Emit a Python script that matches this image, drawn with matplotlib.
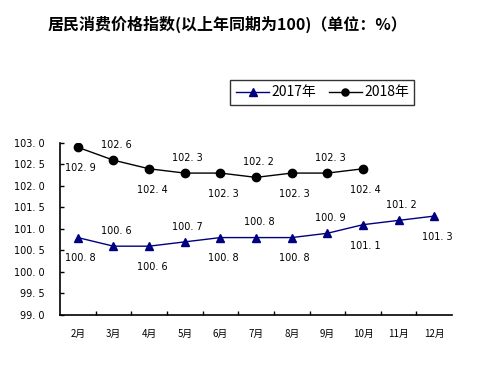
import matplotlib
matplotlib.use("Agg")
import matplotlib.pyplot as plt

months = ["2月", "3月", "4月", "5月", "6月", "7月", "8月", "9月", "10月", "11月", "12月"]
cpi_2017 = [100.8, 100.6, 100.6, 100.7, 100.8, 100.8, 100.8, 100.9, 101.1, 101.2, 101.3]
cpi_2018 = [102.9, 102.6, 102.4, 102.3, 102.3, 102.2, 102.3, 102.3, 102.4]
pos_2017 = ["below", "above", "below", "above", "below", "above", "below", "above", "below", "above", "below"]
pos_2018 = ["below", "above", "below", "above", "below", "above", "below", "above", "below"]
yticks = [99.0, 99.5, 100.0, 100.5, 101.0, 101.5, 102.0, 102.5, 103.0]

CJK = ["Noto Sans CJK SC", "DejaVu Sans"]
NUM = ["DejaVu Sans", "Noto Sans CJK SC"]

fig = plt.figure(figsize=(4.82, 3.71), dpi=100)
ax = fig.add_axes([0.1245, 0.151, 0.8135, 0.4636])

x17 = list(range(len(cpi_2017)))
x18 = list(range(len(cpi_2018)))
ax.plot(x17, cpi_2017, color="#000080", lw=1.0, marker="^", ms=6, mfc="#000080", mec="#000080", label="2017年")
ax.plot(x18, cpi_2018, color="#000000", lw=1.0, marker="o", ms=6, mfc="#000000", mec="#000000", label="2018年")

def fmt(v):
    return f"{v:.1f}".replace(".", ". ")

for xs, ys, ps in ((x17, cpi_2017, pos_2017), (x18, cpi_2018, pos_2018)):
    for xi, yi, p in zip(xs, ys, ps):
        dy = -15 if p == "below" else 11
        ax.annotate(fmt(yi), (xi, yi), xytext=(2, dy), textcoords="offset points",
                    ha="center", va="center", fontsize=7, family=NUM, color="black")

ax.set_xlim(-0.5, len(months) - 0.5)
ax.set_ylim(99.0, 103.0)
ax.set_yticks(yticks)
ax.set_yticklabels([fmt(v) for v in yticks], family=NUM, fontsize=7)
ax.set_xticks(range(len(months)))
ax.set_xticklabels(months, family=CJK, fontsize=7)
ax.set_xticks([i + 0.5 for i in range(len(months) - 1)], minor=True)
ax.tick_params(axis="x", which="major", length=0, pad=10)
ax.tick_params(axis="x", which="minor", direction="in", length=3, width=1)
ax.tick_params(axis="y", direction="in", length=3, width=1, pad=11)
for s in ("top", "right"):
    ax.spines[s].set_visible(False)
for s in ("left", "bottom"):
    ax.spines[s].set_linewidth(1.2)
    ax.spines[s].set_color("black")

fig.text(0.098, 0.933, "居民消费价格指数(以上年同期为100)（单位：%）", family=CJK,
         fontsize=11.5, fontweight="bold", ha="left", va="center")

leg = fig.legend(handles=ax.get_lines(), loc="center", bbox_to_anchor=(0.669, 0.751),
                 ncol=2, frameon=True, fancybox=False, prop={"family": CJK, "size": 10},
                 handlelength=2.4, handletextpad=0.15, columnspacing=0.9, borderpad=0.4,
                 markerscale=0.85)
leg.get_frame().set_edgecolor("black")
leg.get_frame().set_linewidth(1.0)

fig.savefig("out.png", dpi=100)
